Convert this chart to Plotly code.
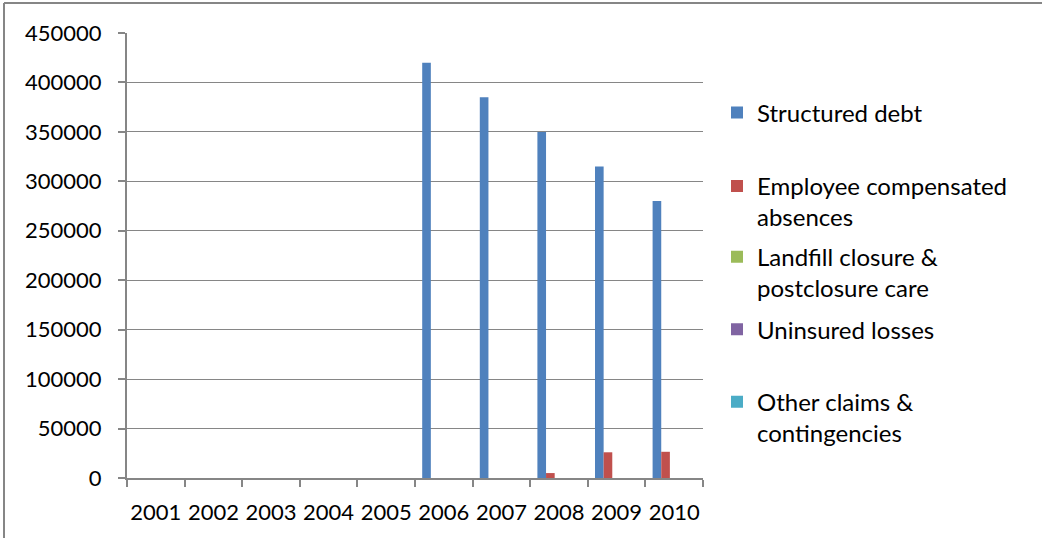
import plotly.graph_objects as go

years = ["2001", "2002", "2003", "2004", "2005", "2006", "2007", "2008", "2009", "2010"]
structured_debt = [0, 0, 0, 0, 0, 420000, 385000, 350000, 315000, 280000]
employee_absences = [0, 0, 0, 0, 0, 0, 0, 5000, 26000, 26500]
landfill = [0, 0, 0, 0, 0, 0, 0, 0, 0, 0]
uninsured = [0, 0, 0, 0, 0, 0, 0, 0, 0, 0]
other_claims = [0, 0, 0, 0, 0, 0, 0, 0, 0, 0]

series = [
    ("Structured debt", structured_debt, "#4F81BD", "legend", 0.8204),
    ("Employee compensated<br>absences", employee_absences, "#C0504D", "legend2", 0.706),
    ("Landfill closure &<br>postclosure care", landfill, "#9BBB59", "legend3", 0.5466),
    ("Uninsured losses", uninsured, "#8064A2", "legend4", 0.3333),
    ("Other claims &<br>contingencies", other_claims, "#4BACC6", "legend5", 0.2211),
]

W, H = 1042, 538
L, R, T, B = 127, 339, 33, 59.5
pw = W - L - R
ph = H - T - B

fig = go.Figure()
legend_layout = {}
for name, vals, color, lg, ly in series:
    fig.add_trace(go.Bar(
        x=years, y=vals, name=name,
        marker=dict(color=color, line=dict(width=0)),
        legend=lg,
    ))
    legend_layout[lg] = dict(
        x=(717 - L) / pw, xanchor="left",
        y=ly, yanchor="top" if "<br>" in name else "middle",
        valign="top",
        font=dict(family="Lato", size=24, color="#000000"),
        bgcolor="rgba(0,0,0,0)",
        itemclick=False, itemdoubleclick=False,
    )

grid_col = "#868686"
fig.update_layout(
    width=W, height=H,
    margin=dict(l=L, r=R, t=T, b=B, autoexpand=False),
    paper_bgcolor="white", plot_bgcolor="white",
    barmode="group", bargap=0.25, bargroupgap=0,
    font=dict(family="Lato", size=22, color="#000000"),
    xaxis=dict(
        type="category", tickson="boundaries", ticks="outside", ticklen=7,
        tickcolor=grid_col, tickwidth=2, showline=True, linecolor=grid_col, linewidth=2,
        showgrid=False, tickfont=dict(family="Lato", size=22, color="#000000"),
        tickangle=0, ticklabelstandoff=14,
    ),
    yaxis=dict(
        range=[0, 450000], dtick=50000, tick0=0, ticks="outside", ticklen=7,
        tickcolor=grid_col, tickwidth=2, showline=True, linecolor=grid_col, linewidth=2,
        showgrid=True, gridcolor=grid_col, gridwidth=1, zeroline=False,
        tickformat="d", tickfont=dict(family="Lato", size=22, color="#000000"),
        ticklabelstandoff=12,
    ),
    showlegend=True,
    hovermode=False,
    **legend_layout,
)

# outer chart border (left and top edges visible in the crop)
bx = (4 - L) / pw
by = 1 + (T - 3) / ph
by0 = 1 - (H + 5 - T) / ph
fig.add_shape(type="line", xref="paper", yref="paper", x0=bx, x1=bx, y0=by0, y1=by,
              line=dict(color=grid_col, width=2))
fig.add_shape(type="line", xref="paper", yref="paper", x0=bx, x1=(W + 5 - L) / pw, y0=by, y1=by,
              line=dict(color=grid_col, width=2))

fig.write_html("out.html", config={"displayModeBar": False},
               post_script="document.body.style.margin='0';document.body.style.overflow='hidden';")
